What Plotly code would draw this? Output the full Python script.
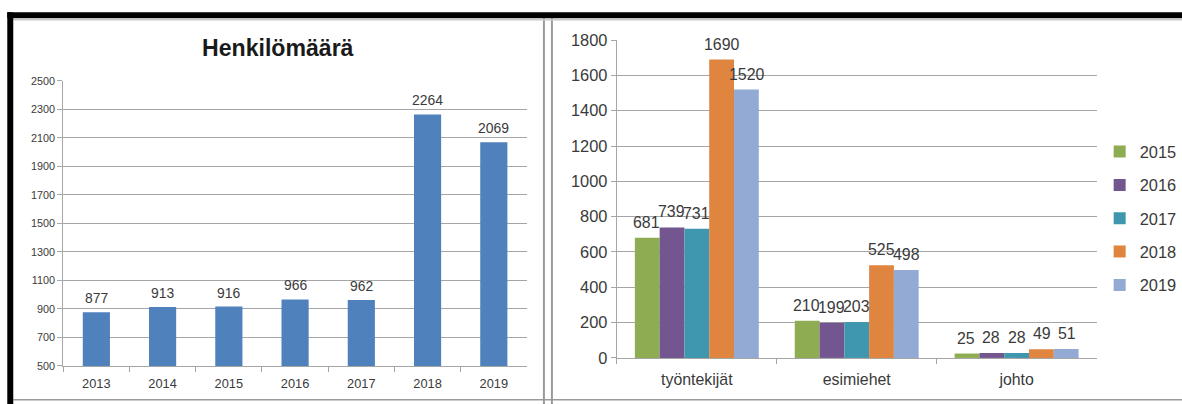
import plotly.graph_objects as go

# Headcount per year (left chart)
years = ["2013", "2014", "2015", "2016", "2017", "2018", "2019"]
headcount = [877, 913, 916, 966, 962, 2264, 2069]

# Staff groups by year (right chart)
groups = ["työntekijät", "esimiehet", "johto"]
series_years = ["2015", "2016", "2017", "2018", "2019"]
staff_2015 = [681, 210, 25]
staff_2016 = [739, 199, 28]
staff_2017 = [731, 203, 28]
staff_2018 = [1690, 525, 49]
staff_2019 = [1520, 498, 51]
staff_values = [staff_2015, staff_2016, staff_2017, staff_2018, staff_2019]

left_ticks = list(range(500, 2501, 200))
right_ticks = list(range(0, 1801, 200))

W, H = 1182, 404
# The page keeps an 8px body margin and the view is fitted to the window,
# so layout positions are given in window pixels and converted here.
PAGE = 8
SX = W / (W + 2 * PAGE)
SY = H / (H + 2 * PAGE)
FS = 1.0 / ((SX + SY) / 2)  # font compensation for the fitted view
# the legend widens the right margin a little; this undoes that horizontally
X_OFF, X_GAIN = 8.2, 1.0039

FONT = "Liberation Sans, Arial, sans-serif"
TEXT = "#3a3a3a"
GRID = "#a6a6a6"
series_colors = ["#8EAD52", "#73568F", "#3E97AF", "#DF8540", "#93AAD4"]


def px_raw(x):
    return (x / SX - PAGE) / W


def px(x):
    return px_raw((x + X_OFF) / X_GAIN)


def py(y):
    return 1 - (y / SY - PAGE) / H


def fs(size):
    return round(size * FS, 1)


fig = go.Figure()

# Left chart: single series, narrow bars
fig.add_trace(go.Bar(
    x=years, y=headcount, width=0.41,
    marker=dict(color="#4F81BD", line=dict(width=0)),
    xaxis="x", yaxis="y", showlegend=False, hoverinfo="x+y",
))

# Right chart: grouped series
for name, vals, col in zip(series_years, staff_values, series_colors):
    fig.add_trace(go.Bar(
        x=groups, y=vals, name=name,
        marker=dict(color=col, line=dict(width=0)),
        xaxis="x2", yaxis="y2", legendgroup=name,
    ))

annotations = []
# Value labels, left chart (category index keeps numeric-looking labels on their bars)
for idx, v in enumerate(headcount):
    annotations.append(dict(
        x=idx, y=v, xref="x", yref="y", text=str(v), showarrow=False,
        yanchor="bottom", yshift=4, font=dict(family=FONT, size=fs(13.5), color=TEXT),
    ))

# Value labels, right chart (shifted onto each bar of the group)
plot_w = (1097 - 617) / SX
cat_w = plot_w / len(groups)
bargap_r = 0.225
bar_w = cat_w * (1 - bargap_r) / len(series_years)
for i, vals in enumerate(staff_values):
    for gi, v in enumerate(vals):
        annotations.append(dict(
            x=gi, y=v, xref="x2", yref="y2", text=str(v), showarrow=False,
            xshift=(i - (len(series_years) - 1) / 2) * bar_w,
            yanchor="bottom", yshift=5, font=dict(family=FONT, size=fs(15.5), color=TEXT),
        ))

# Title of the left chart
annotations.append(dict(
    x=px(278), y=py(47), xref="paper", yref="paper", text="<b>Henkilömäärä</b>",
    showarrow=False, xanchor="center", yanchor="middle",
    font=dict(family=FONT, size=fs(22.5), color="#1a1a1a"),
))

shapes = [
    # frame lines between and around the panels
    dict(type="line", xref="paper", yref="paper", x0=px(544), x1=px(544), y0=py(17), y1=py(410),
         line=dict(color="#9a9a9a", width=2)),
    dict(type="line", xref="paper", yref="paper", x0=px(552), x1=px(552), y0=py(17), y1=py(410),
         line=dict(color="#9a9a9a", width=2)),
    dict(type="line", xref="paper", yref="paper", x0=px(13), x1=px(1200), y0=py(401), y1=py(401),
         line=dict(color="#9a9a9a", width=1.5)),
    dict(type="line", xref="paper", yref="paper", x0=px(13), x1=px(1200), y0=py(18.5), y1=py(18.5),
         line=dict(color="#c8c8c8", width=1.5)),
    # thick black border
    dict(type="rect", xref="paper", yref="paper", x0=px(7), x1=px(1200), y0=py(17), y1=py(11),
         fillcolor="black", line=dict(width=0)),
    dict(type="rect", xref="paper", yref="paper", x0=px(7), x1=px(13), y0=py(410), y1=py(11),
         fillcolor="black", line=dict(width=0)),
]

axis_common = dict(showline=True, linecolor=GRID, linewidth=1.3, ticks="outside",
                   tickcolor=GRID, tickwidth=1.3, ticklen=5, zeroline=False)

fig.update_layout(
    width=W, height=H,
    margin=dict(l=0, r=0, t=0, b=0),
    paper_bgcolor="white", plot_bgcolor="white",
    barmode="group", bargap=0.225, bargroupgap=0,
    xaxis=dict(domain=[px(63), px(527)], anchor="y", type="category",
               range=[-0.5, len(years) - 0.5], ticklabelstandoff=6,
               tickson="boundaries", tickfont=dict(family=FONT, size=fs(12.5), color=TEXT),
               showgrid=False, **axis_common),
    yaxis=dict(domain=[py(367), py(80)], anchor="x", range=[500, 2500],
               tickvals=left_ticks, showgrid=True, gridcolor=GRID, gridwidth=1.3,
               tickfont=dict(family=FONT, size=fs(10.5), color=TEXT), **axis_common),
    xaxis2=dict(domain=[px(617), px(1097)], anchor="y2", type="category",
                range=[-0.5, len(groups) - 0.5], ticklabelstandoff=7,
                tickson="boundaries", tickfont=dict(family=FONT, size=fs(15.5), color=TEXT),
                showgrid=False, **axis_common),
    yaxis2=dict(domain=[py(359), py(39)], anchor="x2", range=[0, 1800],
                tickvals=right_ticks, showgrid=True, gridcolor=GRID, gridwidth=1.3,
                tickfont=dict(family=FONT, size=fs(16), color=TEXT), **axis_common),
    legend=dict(x=px_raw(1104), y=py(134), xanchor="left", yanchor="top",
                font=dict(family=FONT, size=fs(16), color=TEXT), tracegroupgap=9,
                bgcolor="rgba(0,0,0,0)"),
    annotations=annotations,
    shapes=shapes,
)

fig.write_html("out.html")
